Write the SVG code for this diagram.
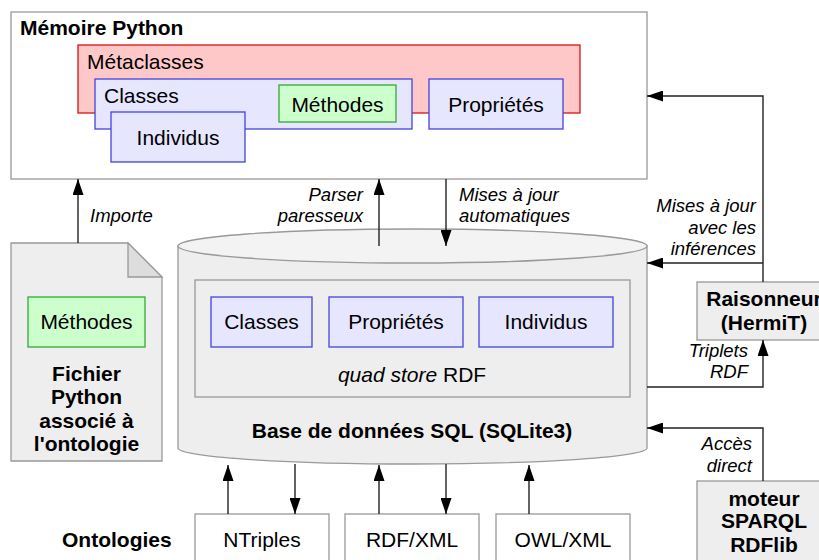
<svg xmlns="http://www.w3.org/2000/svg" width="819" height="560" viewBox="0 0 819 560">
<style>
text{font-family:"Liberation Sans",Arial,sans-serif;font-size:21px;fill:#000}
.b{font-weight:bold}
.i{font-style:italic;font-size:18.5px}
.m{text-anchor:middle}
.e{text-anchor:end}
.gray{fill:#eeeeee;stroke:#999999;stroke-width:1.3}
.white{fill:#ffffff;stroke:#999999;stroke-width:1.3}
.blue{fill:#e6e6ff;stroke:#4444dd;stroke-width:1.3}
.green{fill:#ccffcc;stroke:#33aa33;stroke-width:1.3}
.red{fill:#ffc8c8;stroke:#dd1111;stroke-width:1.3}
.c{fill:none;stroke:#222222;stroke-width:1.4;marker-end:url(#ah)}
</style>
<defs>
<marker id="ah" viewBox="0 0 16 11" refX="16" refY="5.5" markerWidth="16" markerHeight="11" markerUnits="userSpaceOnUse" orient="auto">
<path d="M0,0 L16,5.5 L0,11 z" fill="#000"/>
</marker>
</defs>
<rect width="819" height="560" fill="#ffffff"/>

<g id="memoire">
<rect class="white" x="11" y="12" width="636" height="167"/>
<text class="b" x="20" y="35">Mémoire Python</text>
</g>
<g id="metaclasses">
<rect class="red" x="78" y="45" width="502" height="68"/>
<text x="87" y="69">Métaclasses</text>
</g>
<g id="classes-mem">
<rect class="blue" x="95" y="79" width="317" height="50"/>
<text x="104" y="103">Classes</text>
</g>
<g id="methodes-mem">
<rect class="green" x="279" y="85" width="117" height="37"/>
<text class="m" x="337.5" y="112">Méthodes</text>
</g>
<g id="individus-mem">
<rect class="blue" x="111" y="112" width="134" height="50"/>
<text class="m" x="178" y="145">Individus</text>
</g>
<g id="proprietes-mem">
<rect class="blue" x="429" y="79" width="134" height="50"/>
<text class="m" x="496" y="112">Propriétés</text>
</g>

<g id="fichier">
<path d="M11,243 H128 L162,277 V461 H11 Z" fill="#eeeeee" stroke="#999999" stroke-width="1.3"/>
<path d="M128,243 V277 H162 Z" fill="#dddddd" stroke="#999999" stroke-width="1.3"/>
<rect class="green" x="28" y="297" width="117" height="50"/>
<text class="m" x="86.5" y="329">Méthodes</text>
<text class="b m" x="86.5" y="381">Fichier</text>
<text class="b m" x="86.5" y="404">Python</text>
<text class="b m" x="86.5" y="428">associé à</text>
<text class="b m" x="86.5" y="451">l'ontologie</text>
</g>

<g id="base">
<path d="M178,246 V448 A234.5,16 0 0 0 647,448 V246 Z" fill="#eeeeee" stroke="#999999" stroke-width="1.3"/>
<ellipse cx="412.5" cy="246" rx="234.5" ry="17" fill="#f3f3f3" stroke="#999999" stroke-width="1.3"/>
<text class="b m" x="412" y="438">Base de données SQL (SQLite3)</text>
</g>
<g id="quadstore">
<rect class="gray" x="195" y="280" width="435" height="117"/>
<text class="m" x="412" y="382"><tspan font-style="italic">quad store</tspan> RDF</text>
</g>
<g id="classes-db">
<rect class="blue" x="211" y="297" width="101" height="50"/>
<text class="m" x="261.5" y="329">Classes</text>
</g>
<g id="proprietes-db">
<rect class="blue" x="329" y="297" width="134" height="50"/>
<text class="m" x="396" y="329">Propriétés</text>
</g>
<g id="individus-db">
<rect class="blue" x="479" y="297" width="134" height="50"/>
<text class="m" x="546" y="329">Individus</text>
</g>

<g id="raisonneur">
<rect class="gray" x="697" y="282" width="140" height="58"/>
<text class="b m" x="764" y="306">Raisonneur</text>
<text class="b m" x="764" y="330">(HermiT)</text>
</g>
<g id="sparql">
<rect class="gray" x="697" y="481" width="140" height="100"/>
<text class="b m" x="764" y="506">moteur</text>
<text class="b m" x="764" y="528">SPARQL</text>
<text class="b m" x="764" y="552">RDFlib</text>
</g>

<g id="ontologies">
<text class="b" x="62" y="547">Ontologies</text>
</g>
<g id="ntriples">
<rect class="white" x="195" y="514" width="134" height="60"/>
<text class="m" x="262" y="547">NTriples</text>
</g>
<g id="rdfxml">
<rect class="white" x="345" y="514" width="134" height="60"/>
<text class="m" x="412" y="547">RDF/XML</text>
</g>
<g id="owlxml">
<rect class="white" x="496" y="514" width="134" height="60"/>
<text class="m" x="563" y="547">OWL/XML</text>
</g>

<g id="connectors">
<path class="c" d="M78,243 V179"/>
<path class="c" d="M379,246 V179"/>
<path class="c" d="M446,179 V246"/>
<path class="c" d="M763,282 V96 H647"/>
<path class="c" d="M763,263 H647"/>
<path class="c" d="M647,387 H763 V340"/>
<path class="c" d="M763,481 V428 H647"/>
<path class="c" d="M228,514 V465"/>
<path class="c" d="M295,464 V514"/>
<path class="c" d="M379,514 V465"/>
<path class="c" d="M446,464 V514"/>
<path class="c" d="M529,514 V465"/>
<text class="i" x="90" y="222">Importe</text>
<text class="i e" x="363" y="201">Parser</text>
<text class="i e" x="363" y="222">paresseux</text>
<text class="i" x="459" y="201">Mises à jour</text>
<text class="i" x="459" y="222">automatiques</text>
<text class="i e" x="756" y="212">Mises à jour</text>
<text class="i e" x="756" y="234">avec les</text>
<text class="i e" x="756" y="255">inférences</text>
<text class="i e" x="748" y="357">Triplets</text>
<text class="i e" x="748" y="378">RDF</text>
<text class="i e" x="752" y="450">Accès</text>
<text class="i e" x="752" y="472">direct</text>
</g>
</svg>
